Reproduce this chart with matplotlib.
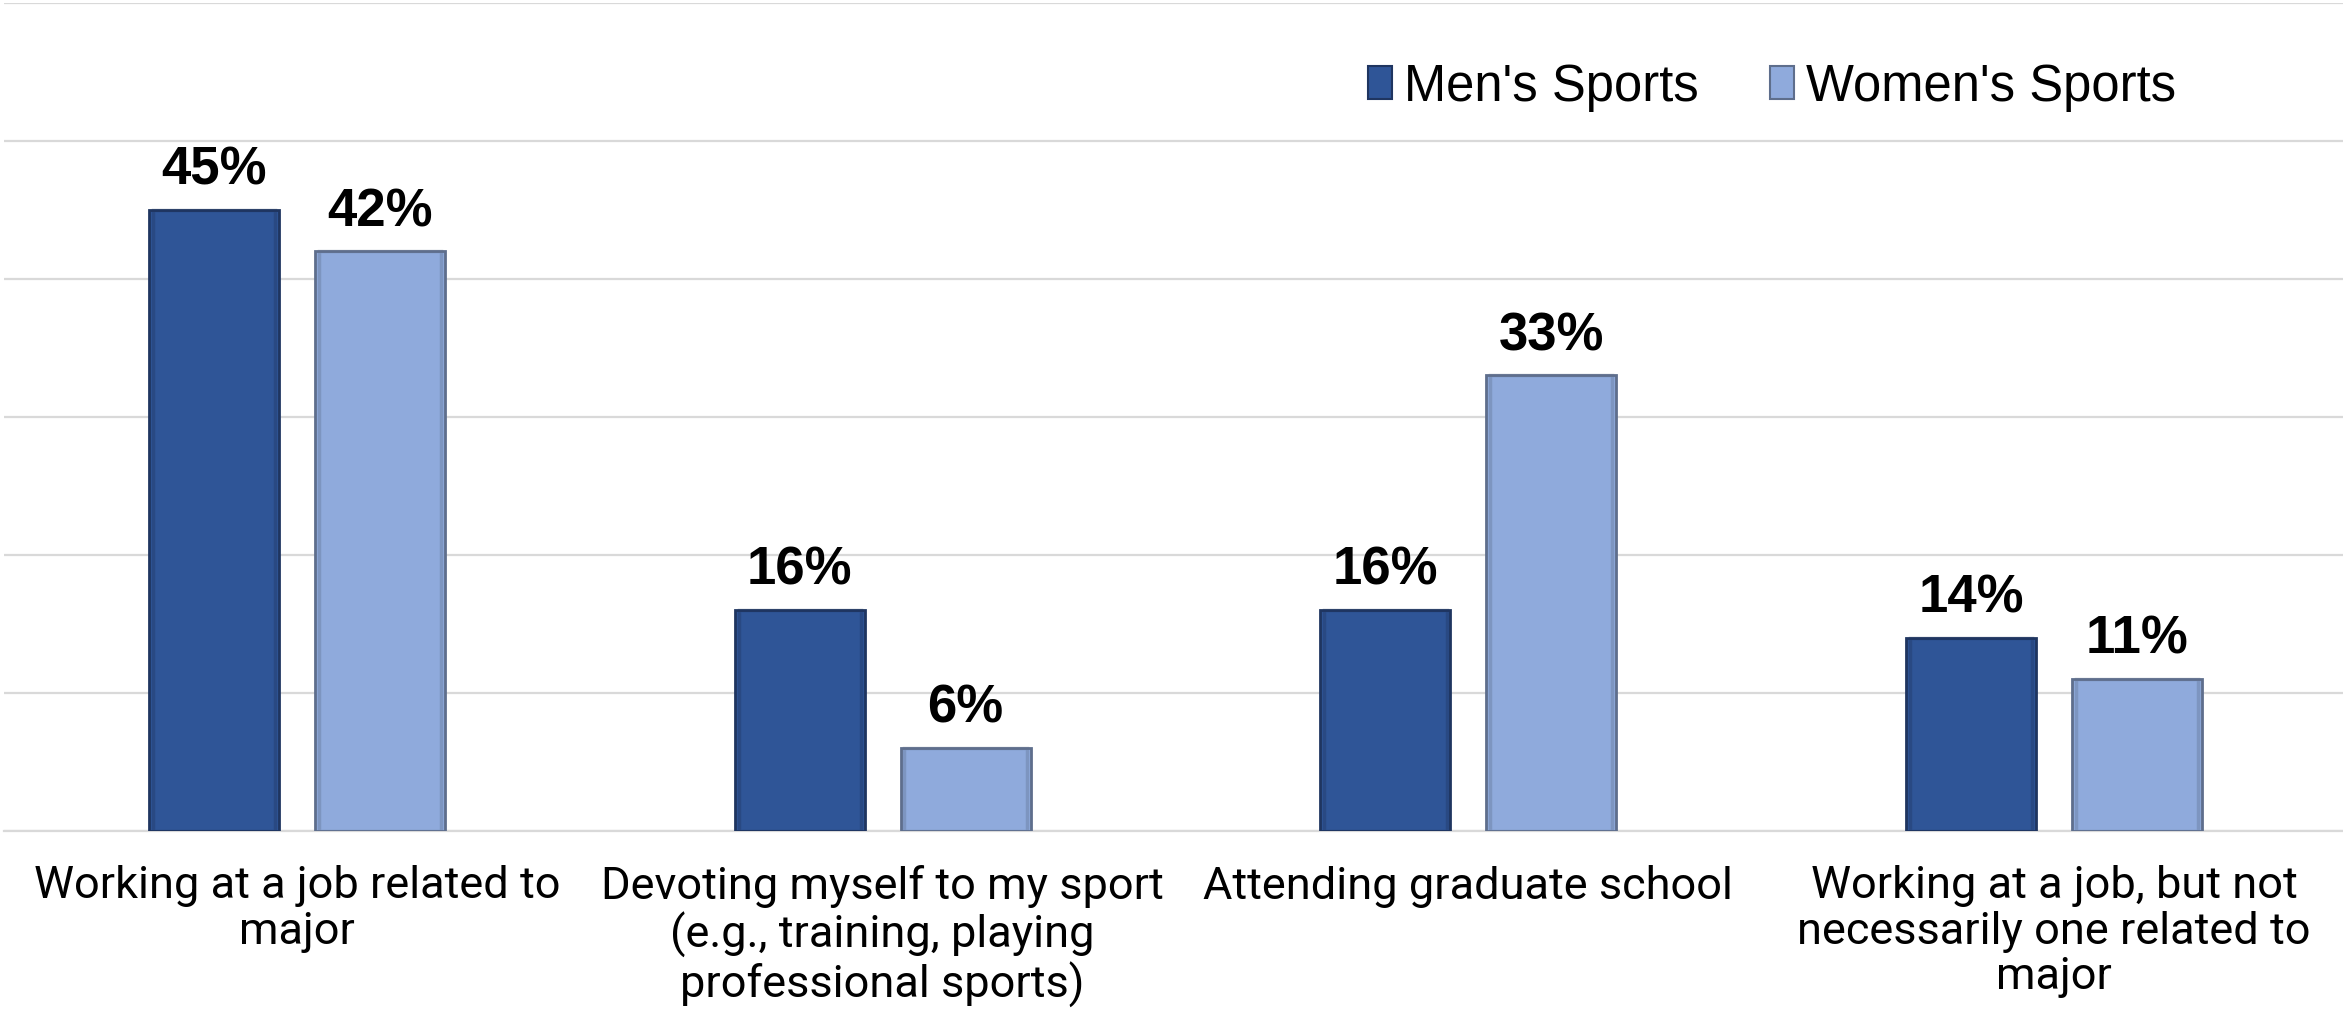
import matplotlib
matplotlib.use("Agg")
import matplotlib.pyplot as plt
from matplotlib.patches import Patch
import numpy as np

categories = [
    "Working at a job related to\nmajor",
    "Devoting myself to my sport\n(e.g., training, playing\nprofessional sports)",
    "Attending graduate school",
    "Working at a job, but not\nnecessarily one related to\nmajor",
]
series_names = ["Men's Sports", "Women's Sports"]
mens = [45, 16, 16, 14]
womens = [42, 6, 33, 11]
yticks = [0, 10, 20, 30, 40, 50, 60]

men_color = "#2F5597"
men_edge = "#1F3560"
women_color = "#8FAADC"
women_edge = "#5E6E8C"
grid_color = "#D9D9D9"

W, H, dpi = 2343, 1009, 100
fig = plt.figure(figsize=(W / dpi, H / dpi), dpi=dpi)
ax = fig.add_axes([0.0017, 0.1767, 1.0, 0.8206])

x = np.arange(len(categories))
bw = 0.222
off = 0.1416

bars_m = ax.bar(x - off, mens, bw, color=men_color, edgecolor=men_edge, linewidth=2.0, zorder=3)
bars_w = ax.bar(x + off, womens, bw, color=women_color, edgecolor=women_edge, linewidth=2.0, zorder=3)

# inner shadow look
for bars, c in ((bars_m, men_edge), (bars_w, women_edge)):
    for b in bars:
        ax.bar(b.get_x() + b.get_width() / 2, b.get_height(), b.get_width() * 0.94,
               color="none", edgecolor=c, linewidth=2.5, alpha=0.35, zorder=4)

for bars, vals in ((bars_m, mens), (bars_w, womens)):
    for b, v in zip(bars, vals):
        ax.annotate(f"{v}%", (b.get_x() + b.get_width() / 2, b.get_height()),
                    xytext=(0, 18), textcoords="offset points",
                    ha="center", va="baseline", fontsize=38, fontweight="bold",
                    family="Liberation Sans", zorder=5)

ax.set_xlim(-0.5, 3.5)
ax.set_ylim(0, 60)
ax.set_yticks(yticks)
ax.yaxis.grid(True, color=grid_color, linewidth=1.6, zorder=0)
ax.set_axisbelow(True)
ax.tick_params(axis="y", left=False, labelleft=False)
ax.set_xticks(x)
ax.set_xticklabels(categories, fontsize=32.5, family="Roboto", linespacing=1.1)
ax.tick_params(axis="x", length=0, pad=25)
for s in ["top", "right", "left"]:
    ax.spines[s].set_visible(False)
ax.spines["bottom"].set_color(grid_color)
ax.spines["bottom"].set_linewidth(1.6)

handles = [
    Patch(facecolor=men_color, edgecolor=men_edge, linewidth=1.5, label=series_names[0]),
    Patch(facecolor=women_color, edgecolor=women_edge, linewidth=1.5, label=series_names[1]),
]
fig.legend(handles=handles, loc="center left", bbox_to_anchor=(1368 / W, 1 - 87 / H),
           ncol=2, frameon=False, prop={"family": "Liberation Sans", "size": 36.5},
           handlelength=0.47, handleheight=0.61, handletextpad=0.24,
           columnspacing=1.4, borderpad=0, borderaxespad=0)

fig.savefig("out.png", dpi=dpi)
